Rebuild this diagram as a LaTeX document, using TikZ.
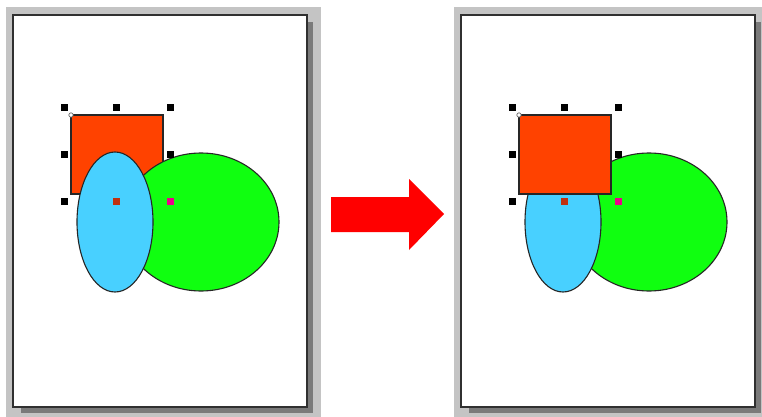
\documentclass[tikz,border=0pt]{standalone}
\usetikzlibrary{shapes.geometric}
\definecolor{framegrey}{HTML}{C4C4C4}
\definecolor{shadowgrey}{HTML}{7A7A7A}
\definecolor{pageedge}{HTML}{303030}
\definecolor{rectred}{HTML}{FF4200}
\definecolor{skyblue}{HTML}{48D0FF}
\definecolor{limegreen}{HTML}{10FF10}
\definecolor{centerbrown}{HTML}{C03010}
\tikzset{
  shapeline/.style={draw=black!85, line width=1.1pt},
  handle/.style={fill=black},
}
\newcommand\drawpage{%
  \fill[framegrey] (6,7) rectangle (321,417);
  \fill[shadowgrey] (21,22) rectangle (313,413);
  \filldraw[fill=white, draw=pageedge, line width=1.3pt] (13,15) rectangle (307,407);
}
\newcommand\drawrect{%
  \filldraw[shapeline, fill=rectred] (71,115) rectangle (163,194);
}
\newcommand\drawblue{%
  \filldraw[shapeline, fill=skyblue] (115,222) ellipse [x radius=38, y radius=70];
}
\newcommand\drawgreen{%
  \filldraw[shapeline, fill=limegreen] (201,222) ellipse [x radius=78, y radius=69];
}
\newcommand\drawhandles{%
  \foreach \hx/\hy in {64/108,116/108,170/108,64/154,170/154,64/201}
    \fill[handle] (\hx-3.5,\hy-3.5) rectangle (\hx+3.5,\hy+3.5);
  \fill[centerbrown] (112.5,197.5) rectangle (119.5,204.5);
  \fill[magenta] (166.5,197.5) rectangle (173.5,204.5);
  \filldraw[fill=white, draw=black!60, line width=0.7pt] (71,115) circle (2.2);
}
\begin{document}
\begin{tikzpicture}[x=1pt,y=-1pt]
\useasboundingbox (0,0) rectangle (762,417);
\fill[white] (0,0) rectangle (762,417);
% left panel: rectangle at the back
\begin{scope}
  \drawpage
  \drawrect
  \drawgreen
  \drawblue
  \drawhandles
\end{scope}
% arrow
\fill[red] (331,197) -- (409,197) -- (409,179) -- (444,214) -- (409,250) -- (409,232) -- (331,232) -- cycle;
% right panel: rectangle brought to the front
\begin{scope}[shift={(448,0)}]
  \begin{scope}
    \clip (5,0) rectangle (314,417);
    \drawpage
  \end{scope}
  \drawgreen
  \drawblue
  \drawrect
  \drawhandles
\end{scope}
\end{tikzpicture}
\end{document}
